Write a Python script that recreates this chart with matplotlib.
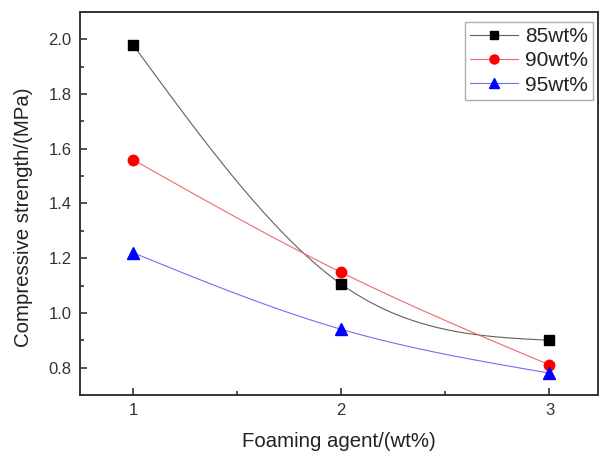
import numpy as np
import matplotlib
matplotlib.use('Agg')
import matplotlib.pyplot as plt
from matplotlib.ticker import MultipleLocator

# --- data ---
foaming = [1, 2, 3]
s85 = [1.98, 1.105, 0.90]
s90 = [1.56, 1.148, 0.81]
s95 = [1.22, 0.94, 0.78]
labels = ['85wt%', '90wt%', '95wt%']


def natural_spline(x, y, n=200):
    # natural cubic spline, like Origin's spline connector
    x = np.asarray(x, float)
    y = np.asarray(y, float)
    k = len(x)
    h = np.diff(x)
    A = np.zeros((k, k))
    b = np.zeros(k)
    A[0, 0] = A[-1, -1] = 1
    for i in range(1, k - 1):
        A[i, i - 1] = h[i - 1]
        A[i, i] = 2 * (h[i - 1] + h[i])
        A[i, i + 1] = h[i]
        b[i] = 6 * ((y[i + 1] - y[i]) / h[i] - (y[i] - y[i - 1]) / h[i - 1])
    M = np.linalg.solve(A, b)
    xs = np.linspace(x[0], x[-1], n)
    ys = np.empty_like(xs)
    for j, xv in enumerate(xs):
        i = min(np.searchsorted(x, xv, side='right') - 1, k - 2)
        t0 = x[i + 1] - xv
        t1 = xv - x[i]
        ys[j] = (M[i] * t0 ** 3 + M[i + 1] * t1 ** 3) / (6 * h[i]) \
            + (y[i] / h[i] - M[i] * h[i] / 6) * t0 \
            + (y[i + 1] / h[i] - M[i + 1] * h[i] / 6) * t1
    return xs, ys


plt.rcParams['font.family'] = 'Liberation Sans'

fig = plt.figure(figsize=(6, 4.54), dpi=100)
ax = fig.add_axes([0.1333, 0.130, 0.864, 0.8436])

series = [(s85, 'black', '#606060', 's', 7),
          (s90, 'red', '#ee6a6a', 'o', 7.5),
          (s95, 'blue', '#7070ee', '^', 8)]

for (vals, mc, lc, mk, ms), lab in zip(series, labels):
    xs, ys = natural_spline(foaming, vals)
    ax.plot(xs, ys, color=lc, lw=0.8, zorder=2)
    ax.plot(foaming, vals, ls='none', marker=mk, color=mc, ms=ms, zorder=3)
    # legend proxy
    ax.plot([], [], color=lc, lw=0.8, marker=mk, mfc=mc, mec=mc, ms=ms - 1, label=lab)

ax.set_xlim(0.745, 3.235)
ax.set_ylim(0.7, 2.1)
ax.xaxis.set_major_locator(MultipleLocator(1))
ax.xaxis.set_minor_locator(MultipleLocator(0.5))
ax.yaxis.set_major_locator(MultipleLocator(0.2))
ax.yaxis.set_minor_locator(MultipleLocator(0.1))
ax.tick_params(which='major', direction='in', length=5, width=1.2, labelsize=12,
               colors='#333333', pad=6)
ax.tick_params(which='minor', direction='in', length=3, width=1.2, colors='#333333')
ax.tick_params(top=False, right=False, which='both')
ax.set_yticks([0.8, 1.0, 1.2, 1.4, 1.6, 1.8, 2.0])
ax.set_yticklabels(['0.8', '1.0', '1.2', '1.4', '1.6', '1.8', '2.0'])
for sp in ax.spines.values():
    sp.set_linewidth(1.4)
    sp.set_color('#333333')

ax.set_xlabel('Foaming agent/(wt%)', fontsize=14.7, color='#222222', labelpad=10)
ax.set_ylabel('Compressive strength/(MPa)', fontsize=14.7, color='#222222')
ax.yaxis.set_label_coords(-0.09, 0.465)

leg = ax.legend(loc='upper right', bbox_to_anchor=(0.990, 0.974), fontsize=15,
                frameon=True, fancybox=False, edgecolor='#999999',
                handlelength=2.3, handletextpad=0.35, labelspacing=0.25,
                borderpad=0.25, borderaxespad=0)
leg.get_frame().set_linewidth(1.0)
for t in leg.get_texts():
    t.set_color('#222222')

plt.savefig('out.png', dpi=100)
plt.close()
